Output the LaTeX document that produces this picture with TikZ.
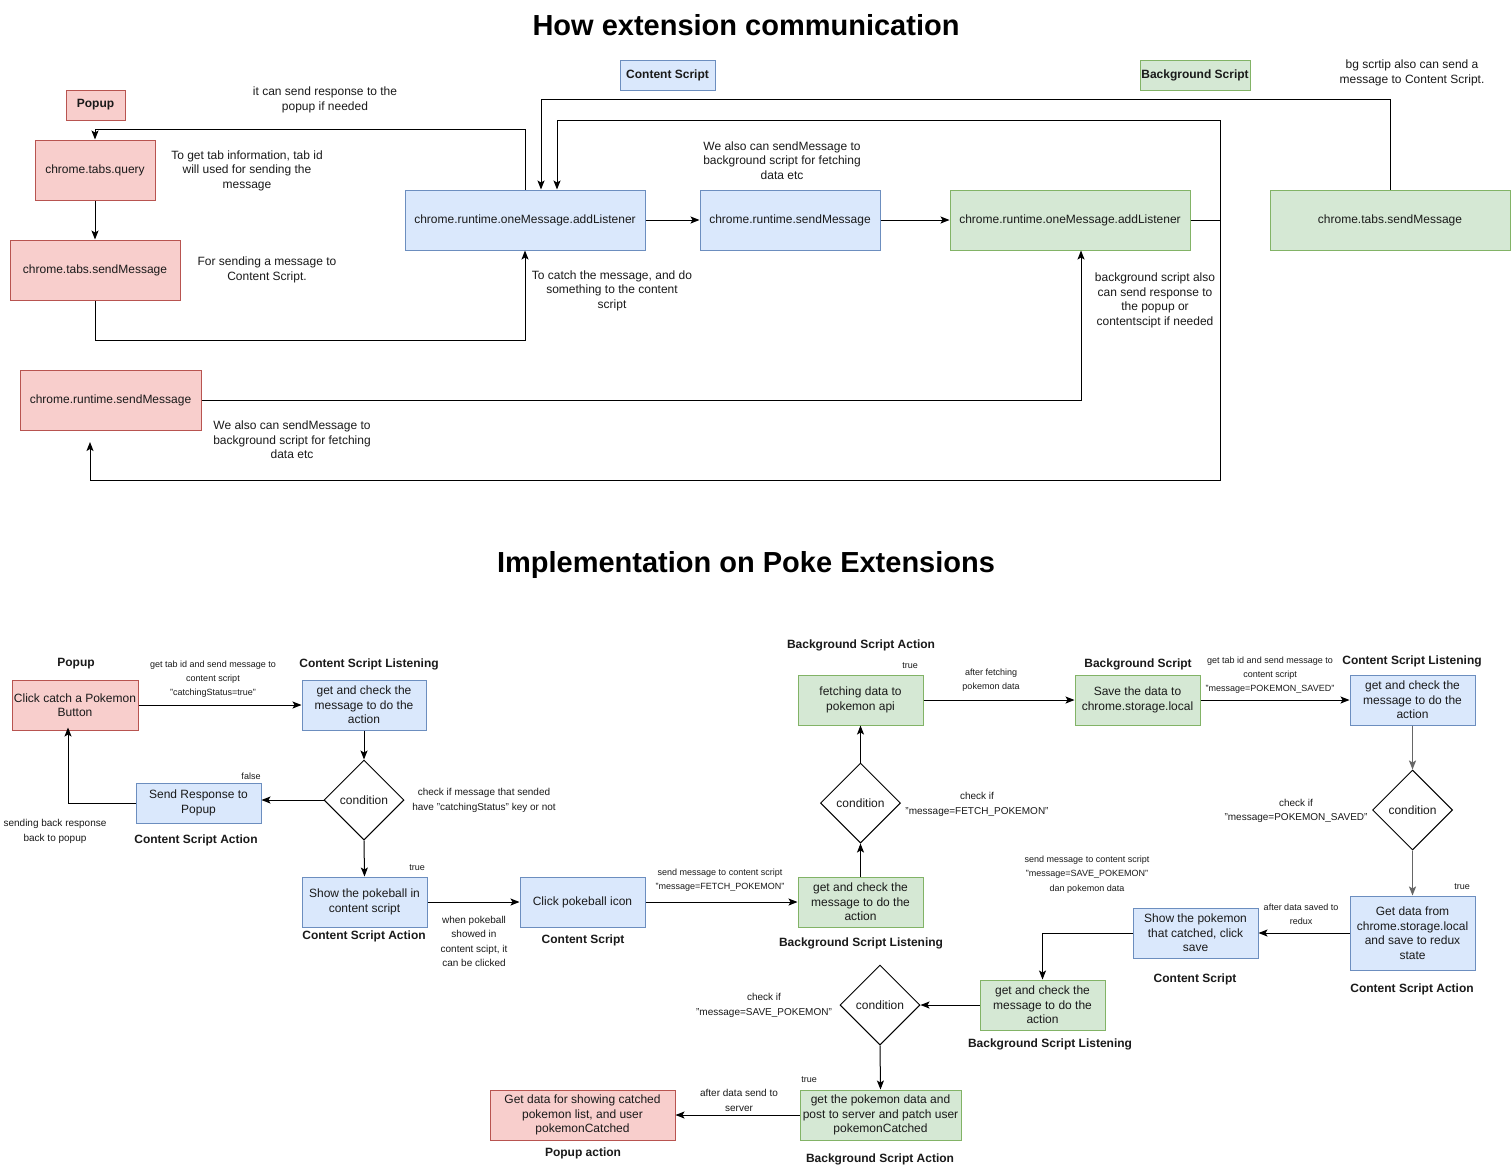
\documentclass[tikz,border=0pt]{standalone}
\usepackage{fontspec}
\setmainfont{Liberation Sans}
\usetikzlibrary{shapes.geometric,arrows.meta,calc}
\definecolor{redf}{HTML}{F8CECC}
\definecolor{redd}{HTML}{B85450}
\definecolor{bluef}{HTML}{DAE8FC}
\definecolor{blued}{HTML}{6C8EBF}
\definecolor{greenf}{HTML}{D5E8D4}
\definecolor{greend}{HTML}{82B366}
\definecolor{txt}{HTML}{1A1A1A}
\definecolor{greyline}{HTML}{666666}
\tikzset{
  box/.style={draw, line width=1pt, minimum height=50pt, inner sep=1pt, align=center,
    font=\fontsize{12}{14.5}\selectfont, text=txt},
  rbox/.style={box, fill=redf, draw=redd},
  bbox/.style={box, fill=bluef, draw=blued},
  gbox/.style={box, fill=greenf, draw=greend},
  cond/.style={diamond, draw, line width=1pt, fill=white, minimum width=80pt, minimum height=80pt,
    inner sep=0pt, font=\fontsize{12}{14}\selectfont, text=txt},
  arr/.style={line width=1pt, -{Stealth[length=9pt,width=7pt,inset=2pt]}},
  garr/.style={arr, draw=greyline, line width=1.6pt},
  lbl/.style={align=center, font=\fontsize{12}{14.5}\selectfont, inner sep=0pt, text=txt},
  sml/.style={align=center, font=\fontsize{9}{14.2}\selectfont, inner sep=0pt, text=txt},
  mid/.style={align=center, font=\fontsize{10}{14.6}\selectfont, inner sep=0pt, text=txt},
  hdr/.style={font=\bfseries\fontsize{12}{14}\selectfont, inner sep=0pt, text=txt},
  ttl/.style={font=\bfseries\fontsize{29}{33}\selectfont, inner sep=0pt},
}
\begin{document}
\begin{tikzpicture}[x=1pt,y=-1pt]
\useasboundingbox[fill=white] (0,0) rectangle (1511,1171);

% ===== Top section =====
\node[ttl] (t1) at (746,25) {How extension communication};

\node[rbox, minimum width=59pt, minimum height=30pt, font=\bfseries\fontsize{12}{14}\selectfont] (lp) at (95.5,105) {Popup};
\node[bbox, minimum width=95pt, minimum height=30pt, font=\bfseries\fontsize{12}{14}\selectfont] (lc) at (667.5,75) {Content Script};
\node[gbox, minimum width=110pt, minimum height=30pt, font=\bfseries\fontsize{12}{14}\selectfont] (lb) at (1195,75) {Background Script};

\node[rbox, minimum width=120pt, minimum height=60pt] (tq) at (95,170) {chrome.tabs.query};
\node[rbox, minimum width=170pt, minimum height=60pt] (tsm) at (95,270) {chrome.tabs.sendMessage};
\node[rbox, minimum width=181pt, minimum height=60pt] (rsm) at (110.5,400) {chrome.runtime.sendMessage};
\node[bbox, minimum width=240pt, minimum height=60pt] (csal) at (525,220) {chrome.runtime.oneMessage.addListener};
\node[bbox, minimum width=180pt, minimum height=60pt] (cssm) at (790,220) {chrome.runtime.sendMessage};
\node[gbox, minimum width=240pt, minimum height=60pt] (bgal) at (1070,220) {chrome.runtime.oneMessage.addListener};
\node[gbox, minimum width=240pt, minimum height=60pt] (bgts) at (1390,220) {chrome.tabs.sendMessage};

\coordinate (back) at (90,442);

\draw[arr] (tq.south) -- (tsm.north);
\draw[arr] (tsm.south) -- ++(0,40) -| (csal.south);
\draw[arr] (csal.north) -- ++(0,-60) -| (tq.north);
\draw[arr] (csal.east) -- (cssm.west);
\draw[arr] (cssm.east) -- (bgal.west);
\draw[arr] (bgal.east) -- ++(30,0) -- ++(0,-100) -| ([xshift=32pt]csal.north);
\draw[arr] (bgal.east) -- ++(30,0) -- ++(0,260) -| (back);
\draw[arr] (bgts.north) -- ++(0,-90) -| ([xshift=16pt]csal.north);
\draw[arr] (rsm.east) -| ([xshift=11pt]bgal.south);

\node[lbl] (n1) at (325,100) {it can send response to the\\popup if needed};
\node[lbl] (n2) at (247,170.5) {To get tab information, tab id\\will used for sending the\\message};
\node[lbl] (n3) at (267,270) {For sending a message to\\Content Script.};
\node[lbl] (n4) at (782,160.5) {We also can sendMessage to\\background script for fetching\\data etc};
\node[lbl] (n5) at (612,290.5) {To catch the message, and do\\something to the content\\script};
\node[lbl] (n6) at (1155,300.5) {background script also\\can send response to\\the popup or\\contentscipt if needed};
\node[lbl] (n7) at (1412,73) {bg scrtip also can send a\\message to Content Script.};
\node[lbl] (n8) at (292,440) {We also can sendMessage to\\background script for fetching\\data etc};

% ===== Bottom section =====
\node[ttl] (t2) at (746,565) {Implementation on Poke Extensions};

\node[rbox, minimum width=126pt] (clk) at (75,705) {Click catch a Pokemon\\Button};
\node[bbox, minimum width=124pt] (csl1) at (364,705) {get and check the\\message to do the\\action};
\node[cond] (d1) at (364,800) {condition};
\node[bbox, minimum width=125pt, minimum height=40pt] (sr) at (198.5,803) {Send Response to\\Popup};
\node[bbox, minimum width=125pt] (sp) at (364.5,902) {Show the pokeball in\\content script};
\node[bbox, minimum width=125pt] (cpi) at (582.5,902) {Click pokeball icon};
\node[gbox, minimum width=125pt] (bgl1) at (860.5,902) {get and check the\\message to do the\\action};
\node[cond] (d2) at (860.5,803) {condition};
\node[gbox, minimum width=125pt] (fd) at (860.5,700) {fetching data to\\pokemon api};
\node[gbox, minimum width=125pt] (sv) at (1137.5,700) {Save the data to\\chrome.storage.local};
\node[bbox, minimum width=125pt] (csl2) at (1412.5,700) {get and check the\\message to do the\\action};
\node[cond] (d3) at (1412.5,810) {condition};
\node[bbox, minimum width=125pt, minimum height=74pt] (gd) at (1412.5,933) {Get data from\\chrome.storage.local\\and save to redux\\state};
\node[bbox, minimum width=125pt] (spk) at (1195.5,933) {Show the pokemon\\that catched, click\\save};
\node[gbox, minimum width=125pt] (bgl2) at (1042.5,1005) {get and check the\\message to do the\\action};
\node[cond] (d4) at (880,1005) {condition};
\node[gbox, minimum width=161pt] (gp) at (880.5,1115) {get the pokemon data and\\post to server and patch user\\pokemonCatched};
\node[rbox, minimum width=185pt] (pa) at (582.5,1115) {Get data for showing catched\\pokemon list, and user\\pokemonCatched};

% headers
\node[hdr] (h1) at (76,664) {Popup};
\node[hdr] (h2) at (369,664) {Content Script Listening};
\node[hdr] (h3) at (196,840) {Content Script Action};
\node[hdr] (h4) at (364,936) {Content Script Action};
\node[hdr] (h5) at (583,940) {Content Script};
\node[hdr] (h6) at (861,943) {Background Script Listening};
\node[hdr] (h7) at (861,645) {Background Script Action};
\node[hdr] (h8) at (1138,664) {Background Script};
\node[hdr] (h9) at (1412,661) {Content Script Listening};
\node[hdr] (h10) at (1412,989) {Content Script Action};
\node[hdr] (h11) at (1195,979) {Content Script};
\node[hdr] (h12) at (1050,1044) {Background Script Listening};
\node[hdr] (h13) at (880,1159) {Background Script Action};
\node[hdr] (h14) at (583,1153) {Popup action};

% small labels
\node[sml] (s1) at (213,679) {get tab id and send message to\\content script\\"catchingStatus=true"};
\node[mid] (s2) at (484,800.5) {check if message that sended\\have "catchingStatus" key or not};
\node[mid] (s3) at (55,831.5) {sending back response\\back to popup};
\node[sml] (s4) at (251,776) {false};
\node[sml] (s5) at (417,868) {true};
\node[mid] (s6) at (474,941.5) {when pokeball\\showed in\\content scipt, it\\can be clicked};
\node[sml] (s7) at (720,880) {send message to content script\\"message=FETCH\_POKEMON"};
\node[mid] (s8) at (977,804.5) {check if\\"message=FETCH\_POKEMON"};
\node[sml] (s9) at (910,666) {true};
\node[sml] (s10) at (991,680.5) {after fetching\\pokemon data};
\node[sml] (s11) at (1270,675) {get tab id and send message to\\content script\\"message=POKEMON\_SAVED"};
\node[mid] (s12) at (1296,811) {check if\\"message=POKEMON\_SAVED"};
\node[sml] (s13) at (1462,887) {true};
\node[sml] (s14) at (1301,914) {after data saved to\\redux};
\node[sml] (s15) at (1087,874.5) {send message to content script\\"message=SAVE\_POKEMON"\\dan pokemon data};
\node[mid] (s16) at (764,1005.5) {check if\\"message=SAVE\_POKEMON"};
\node[sml] (s17) at (809,1080) {true};
\node[mid] (s18) at (739,1100.5) {after data send to\\server};

% arrows
\draw[arr] (clk.east) -- (csl1.west);
\draw[arr] (csl1.south) -- (d1.north);
\draw[arr] (d1.west) -- (d1.west -| sr.east);
\draw[arr] (sr.west) -| ([xshift=-7pt,yshift=3pt]clk.south);
\draw[arr] (d1.south) -- (sp.north);
\draw[arr] (sp.east) -- (cpi.west);
\draw[arr] (cpi.east) -- (bgl1.west);
\draw[arr] (bgl1.north) -- (d2.south);
\draw[arr] (d2.north) -- (fd.south);
\draw[arr] (fd.east) -- (sv.west);
\draw[arr] (sv.east) -- (csl2.west);
\draw[garr] (csl2.south) -- (d3.north);
\draw[garr] (d3.south) -- (gd.north);
\draw[arr] (gd.west) -- (spk.east);
\draw[arr] (spk.west) -| (bgl2.north);
\draw[arr] (bgl2.west) -- (d4.east);
\draw[arr] (d4.south) -- (gp.north);
\draw[arr] (gp.west) -- (pa.east);
\end{tikzpicture}
\end{document}
